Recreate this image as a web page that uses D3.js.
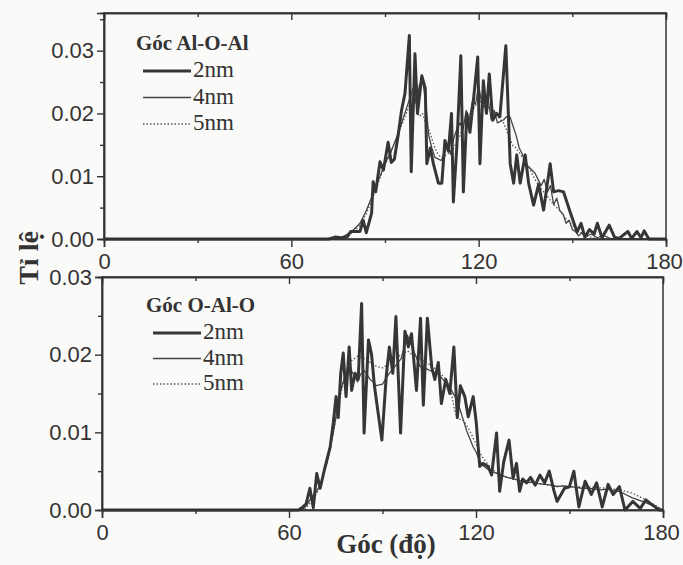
<!DOCTYPE html>
<html>
<head>
<meta charset="utf-8">
<script src="https://cdn.jsdelivr.net/npm/d3@7"></script>
<style>
  body { margin: 0; background: #fafaf8; }
  svg { display: block; }
  .tick text { font-family: "Liberation Sans", Arial, sans-serif; font-size: 22px; fill: #333; }
  .serif { font-family: "Liberation Serif", "Times New Roman", serif; fill: #333; }
</style>
</head>
<body>
<div id="chart"></div>
<script>
// Tick labels
const xTicks = [0, 60, 120, 180];
const xMinor = [30, 90, 150];
const yTicksTop = [0, 0.01, 0.02, 0.03];
const yMinorTop = [0.005, 0.015, 0.025, 0.035];
const yTicksBot = [0, 0.01, 0.02, 0.03];
const yMinorBot = [0.005, 0.015, 0.025];
const seriesNames = ["2nm", "4nm", "5nm"];

// Góc Al-O-Al  [angle, fraction]
const aloal2nm = [[0,0],[72,0],[74,0.0003],[76,0.0002],[78,0.0004],[79,0.0012],[82,0.0012],[83,0.003],[84,0.001],[85.7,0.0041],[86.2,0.0091],[87,0.0075],[88.4,0.0123],[89.5,0.011],[91,0.0154],[92,0.0122],[93,0.0127],[94.2,0.0165],[95.3,0.0205],[96.4,0.0232],[97.8,0.0324],[98.4,0.0107],[99.6,0.0295],[100.4,0.020],[101.8,0.026],[102.9,0.024],[103.4,0.012],[104.5,0.0145],[105.5,0.012],[107.1,0.0089],[108.2,0.0089],[109.2,0.0157],[110.3,0.014],[111.3,0.020],[111.9,0.0059],[113,0.0147],[114.3,0.0292],[115.1,0.0075],[116.2,0.020],[117.2,0.017],[118.3,0.022],[119.7,0.029],[120.4,0.012],[121.5,0.0252],[122.5,0.020],[123.4,0.0263],[124.5,0.0189],[125.7,0.020],[126.8,0.0195],[128.7,0.0308],[130.1,0.012],[131.2,0.0089],[132.2,0.0134],[133.3,0.0089],[134.9,0.0134],[136,0.0089],[137.6,0.0054],[139.2,0.0087],[140.8,0.0046],[142.9,0.012],[144,0.0075],[145.6,0.0077],[147.2,0.0075],[149.3,0.0043],[151.5,0.0011],[152.8,0.0025],[154,0.0003],[155.5,0.0015],[157,0.0008],[158,0.0025],[159.5,0.0002],[161.8,0.0022],[163.5,0.0003],[165,0.0001],[167.8,0.0012],[169,0.0001],[170.7,0.0012],[172,0.0002],[173,0.0013],[174.5,0],[180,0]];
const aloal4nm = [[0,0],[74,0],[76,0.0002],[78,0.0008],[80,0.0015],[82,0.0025],[84,0.0045],[86,0.007],[88,0.0095],[90,0.012],[92,0.014],[94,0.0165],[96,0.0195],[98,0.0225],[99,0.024],[100,0.0215],[101,0.0245],[102,0.0255],[103,0.022],[104,0.0165],[105,0.0145],[106,0.013],[108,0.0125],[109,0.0135],[110,0.015],[111,0.0135],[112,0.016],[113,0.0175],[114,0.0185],[115,0.0175],[116,0.0205],[117,0.019],[118,0.022],[119,0.0215],[120,0.0245],[121,0.0215],[122,0.021],[123,0.0225],[124,0.019],[125,0.0205],[126,0.0185],[128,0.019],[129,0.0195],[130,0.0195],[131,0.018],[132,0.0165],[133,0.0145],[134,0.0135],[135,0.012],[136,0.0115],[138,0.0105],[139,0.0095],[140,0.0085],[141,0.0095],[142,0.0075],[143,0.0085],[144,0.0055],[145,0.0065],[146,0.0045],[147,0.004],[148,0.0025],[149,0.003],[150,0.0015],[151,0.0012],[152,0.0005],[153,0.001],[154,0.0003],[156,0.0008],[158,0.0002],[160,0.0006],[162,0.0001],[164,0],[180,0]];
const aloal5nm = [[0,0],[76,0],[78,0.0005],[80,0.0012],[82,0.0022],[84,0.004],[86,0.0065],[88,0.0092],[90,0.0118],[92,0.014],[94,0.0165],[96,0.019],[98,0.0215],[100,0.021],[101,0.0195],[102,0.02],[103,0.0185],[104,0.0175],[105,0.016],[106,0.0145],[107,0.0135],[108,0.013],[110,0.0135],[112,0.0145],[114,0.0165],[116,0.019],[118,0.0205],[120,0.022],[122,0.0215],[124,0.0205],[126,0.0195],[128,0.0185],[130,0.016],[131,0.0148],[132,0.0145],[134,0.013],[136,0.0115],[138,0.0095],[140,0.008],[142,0.0068],[144,0.0055],[146,0.0045],[148,0.0032],[150,0.0022],[152,0.0012],[154,0.0006],[156,0.0003],[158,0],[180,0]];

// Góc O-Al-O
const oalo2nm = [[0,0],[63,0],[64.5,0.0004],[65.5,0.0008],[66.7,0.0028],[67.8,0.0003],[68.9,0.0047],[70,0.0028],[71.6,0.0056],[73.2,0.0081],[74.2,0.0112],[75.1,0.0146],[75.8,0.0119],[76.6,0.0176],[77.4,0.0202],[78.3,0.0146],[79.3,0.021],[80.1,0.0154],[81.2,0.0176],[82.2,0.0168],[83.3,0.0266],[84.1,0.0099],[85.5,0.0219],[86.5,0.020],[87.4,0.016],[89.8,0.009],[91.2,0.0172],[92.2,0.021],[93.3,0.0176],[94.3,0.0249],[95.8,0.0099],[97.2,0.023],[98.3,0.021],[99.3,0.0227],[100.9,0.0154],[102.2,0.0247],[103.1,0.0135],[104.4,0.0247],[105.8,0.0184],[106.8,0.0168],[107.9,0.019],[108.9,0.0137],[110.3,0.0168],[111.6,0.015],[112.9,0.021],[114,0.0119],[115,0.016],[116.4,0.0146],[117.5,0.012],[119.1,0.0146],[120.1,0.0112],[121.2,0.0056],[122.3,0.006],[123.9,0.0056],[125,0.0045],[126.6,0.0099],[127.6,0.0024],[128.9,0.0062],[130.6,0.009],[131.9,0.0041],[133,0.006],[134,0.0024],[135,0.004],[136.2,0.0035],[137.5,0.0042],[139,0.0032],[140.5,0.0045],[142,0.0035],[143.5,0.005],[145,0.0025],[146,0.0011],[148.4,0.0028],[150,0.003],[151.4,0.005],[153,0.0004],[155,0.0037],[157,0.002],[158.7,0.0035],[160.5,0.0004],[162.4,0.0033],[164,0.002],[166,0.003],[167.8,0],[170.3,0.0011],[172.7,0.0002],[174.5,0.0013],[176.4,0.0007],[178.8,0],[180,0]];
const oalo4nm = [[0,0],[64,0],[65,0.0003],[66,0.0008],[67,0.0015],[68,0.002],[69,0.0025],[70,0.0032],[71,0.0045],[72,0.0058],[73,0.0075],[74,0.0095],[75,0.0118],[76,0.0145],[77,0.016],[78,0.0172],[79,0.0175],[80,0.018],[81,0.0172],[82,0.0165],[83,0.0175],[84,0.018],[85,0.0175],[86,0.0168],[87,0.0165],[88,0.016],[90,0.0162],[92,0.0175],[94,0.0185],[96,0.0195],[97,0.021],[98,0.0225],[99,0.0215],[100,0.0205],[101,0.0195],[102,0.0185],[104,0.0182],[106,0.0178],[108,0.0175],[110,0.0165],[111,0.016],[112,0.0155],[113,0.0148],[114,0.014],[115,0.0128],[116,0.0115],[117,0.0102],[118,0.0092],[119,0.0082],[120,0.0075],[121,0.0065],[122,0.0058],[124,0.0052],[126,0.0048],[128,0.0045],[130,0.0042],[132,0.004],[134,0.0038],[136,0.0035],[138,0.0036],[140,0.0034],[142,0.0033],[144,0.0032],[146,0.003],[148,0.0031],[150,0.003],[152,0.0029],[154,0.0028],[156,0.0028],[158,0.0027],[160,0.0026],[162,0.0027],[164,0.0025],[166,0.0024],[168,0.002],[170,0.0016],[172,0.0013],[174,0.001],[176,0.0007],[178,0.0003],[180,0]];
const oalo5nm = [[0,0],[65,0],[66,0.0005],[68,0.0015],[70,0.003],[72,0.006],[74,0.0095],[76,0.0138],[78,0.0175],[80,0.0192],[82,0.0198],[84,0.0195],[86,0.019],[88,0.0185],[90,0.0183],[92,0.0188],[94,0.0195],[96,0.02],[98,0.0205],[100,0.0198],[102,0.0195],[104,0.019],[106,0.0185],[108,0.0178],[110,0.017],[112,0.0155],[113,0.013],[114,0.0118],[116,0.0115],[118,0.0102],[120,0.0085],[122,0.0068],[124,0.0058],[126,0.005],[128,0.0045],[130,0.0042],[134,0.0038],[138,0.0035],[142,0.0033],[146,0.0031],[150,0.003],[154,0.003],[158,0.0029],[162,0.0028],[166,0.0026],[170,0.0022],[174,0.0014],[178,0.0005],[180,0]];

const W = 683, H = 565;
const ink = "#333";

const svg = d3.select("#chart").append("svg")
  .attr("width", W).attr("height", H);

// line styles for 2nm / 4nm / 5nm
const styles = [
  { width: 3, color: "#363636", dash: null },
  { width: 1.3, color: "#444", dash: null },
  { width: 1.3, color: "#555", dash: "1.5,2" }
];

const drawPanel = (p) => {
  const x = d3.scaleLinear().domain([0, 180]).range([p.left, p.right]);
  const y = d3.scaleLinear().domain([0, p.ymax]).range([p.bottom, p.top]);
  const g = svg.append("g");

  // curves: 5nm, 4nm first so thick 2nm sits on top
  const line = d3.line().x(d => x(d[0])).y(d => y(d[1]));
  [2, 1, 0].forEach(i => {
    g.append("path")
      .datum(p.series[i])
      .attr("d", line)
      .attr("fill", "none")
      .attr("stroke", styles[i].color)
      .attr("stroke-width", styles[i].width)
      .attr("stroke-linejoin", "round")
      .attr("stroke-dasharray", styles[i].dash);
  });

  // frame
  g.append("rect")
    .attr("x", p.left).attr("y", p.top)
    .attr("width", p.right - p.left).attr("height", p.bottom - p.top)
    .attr("fill", "none").attr("stroke", ink).attr("stroke-width", 1.5);

  // y axis
  g.append("g")
    .attr("transform", "translate(" + p.left + ",0)")
    .call(d3.axisLeft(y).tickValues(p.yTicks).tickFormat(d3.format(".2f")).tickSize(7).tickPadding(3));
  g.append("g")
    .attr("transform", "translate(" + p.left + ",0)")
    .call(d3.axisLeft(y).tickValues(p.yMinor).tickFormat("").tickSize(4));

  // x axis, bottom
  const xAxis = g.append("g")
    .attr("transform", "translate(0," + p.bottom + ")")
    .call(d3.axisBottom(x).tickValues(xTicks).tickSize(8).tickPadding(6));
  g.append("g")
    .attr("transform", "translate(0," + p.bottom + ")")
    .call(d3.axisBottom(x).tickValues(xMinor).tickFormat("").tickSize(4));
  // keep "180" inside the page edge
  xAxis.selectAll(".tick text").filter(d => d === 180).attr("dx", -2);

  // mirror ticks on top frame, pointing inward
  g.append("g")
    .attr("transform", "translate(0," + p.top + ")")
    .call(d3.axisBottom(x).tickValues(xTicks.slice(1, 3)).tickFormat("").tickSize(7));
  g.append("g")
    .attr("transform", "translate(0," + p.top + ")")
    .call(d3.axisBottom(x).tickValues(xMinor).tickFormat("").tickSize(4));

  g.selectAll(".domain").attr("stroke", ink).attr("stroke-width", 1.5);
  g.selectAll(".tick line").attr("stroke", ink).attr("stroke-width", 1.4);

  // legend
  const lg = g.append("g");
  lg.append("text")
    .attr("class", "serif")
    .attr("x", p.legX).attr("y", p.legY)
    .attr("font-weight", "bold").attr("font-size", 21)
    .text(p.title);
  seriesNames.forEach((name, i) => {
    const ly = p.legY + 27 + i * p.legStep;
    lg.append("line")
      .attr("x1", p.legX + 7).attr("x2", p.legX + 55)
      .attr("y1", ly - 6).attr("y2", ly - 6)
      .attr("stroke", styles[i].color)
      .attr("stroke-width", styles[i].width)
      .attr("stroke-dasharray", styles[i].dash);
    lg.append("text")
      .attr("class", "serif")
      .attr("x", p.legX + 57).attr("y", ly)
      .attr("font-size", 23)
      .text(name);
  });
};

drawPanel({
  left: 104, right: 666, top: 13, bottom: 239, ymax: 0.036,
  yTicks: yTicksTop, yMinor: yMinorTop,
  series: [aloal2nm, aloal4nm, aloal5nm],
  title: "Góc Al-O-Al", legX: 136, legY: 50, legStep: 26.5
});

drawPanel({
  left: 102, right: 663, top: 277, bottom: 510, ymax: 0.03,
  yTicks: yTicksBot, yMinor: yMinorBot,
  series: [oalo2nm, oalo4nm, oalo5nm],
  title: "Góc O-Al-O", legX: 146, legY: 312, legStep: 25.5
});

// axis titles
svg.append("text")
  .attr("class", "serif")
  .attr("transform", "translate(38,258) rotate(-90)")
  .attr("text-anchor", "middle")
  .attr("font-weight", "bold").attr("font-size", 28)
  .text("Tỉ lệ");

svg.append("text")
  .attr("class", "serif")
  .attr("x", 386).attr("y", 553)
  .attr("text-anchor", "middle")
  .attr("font-weight", "bold").attr("font-size", 27)
  .text("Góc (độ)");
</script>
</body>
</html>
